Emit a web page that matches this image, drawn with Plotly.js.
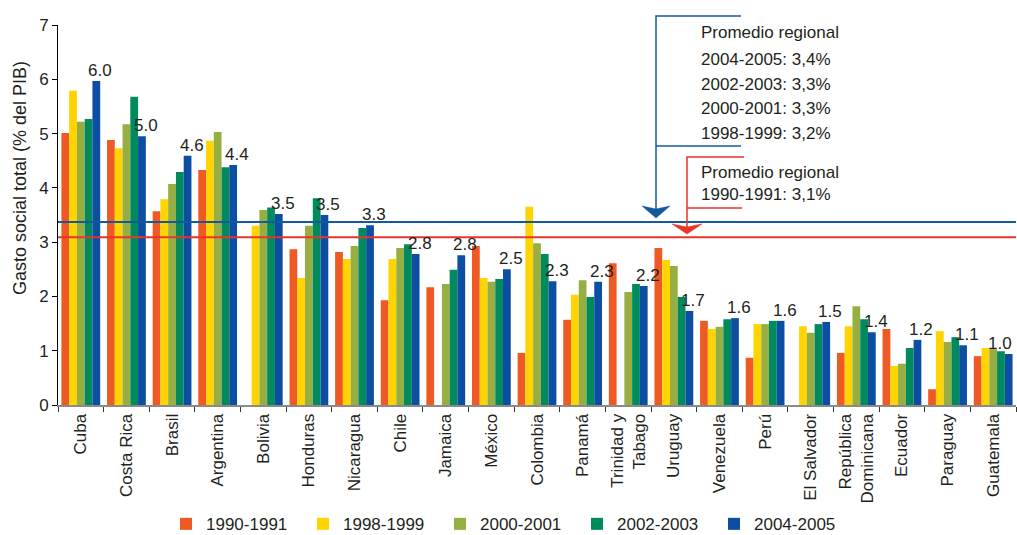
<!DOCTYPE html>
<html>
<head>
<meta charset="utf-8">
<script src="https://cdn.plot.ly/plotly-3.0.1.min.js"></script>
<style>html,body{margin:0;padding:0;background:#fff;}#chart{width:1017px;height:535px;}</style>
</head>
<body>
<div id="chart"></div>
<script>
// ---- Data ----
const countries = ["Cuba","Costa Rica","Brasil","Argentina","Bolivia","Honduras","Nicaragua","Chile","Jamaica","México","Colombia","Panamá","Trinidad y<br>Tabago","Uruguay","Venezuela","Perú","El Salvador","República<br>Dominicana","Ecuador","Paraguay","Guatemala"];
const seriesNames = ["1990-1991","1998-1999","2000-2001","2002-2003","2004-2005"];
const v1990 = [5.01,4.88,3.57,4.33,null,2.87,2.82,1.93,2.17,2.93,0.96,1.57,2.61,2.89,1.55,0.87,null,0.96,1.40,0.29,0.90];
const v1998 = [5.79,4.73,3.79,4.87,3.30,2.34,2.69,2.69,null,2.34,3.65,2.03,null,2.67,1.40,1.49,1.45,1.45,0.72,1.36,1.05];
const v2000 = [5.22,5.17,4.07,5.03,3.59,3.30,2.93,2.89,2.23,2.27,2.98,2.30,2.08,2.56,1.44,1.49,1.33,1.82,0.76,1.16,1.03];
const v2002 = [5.27,5.68,4.29,4.38,3.64,3.81,3.26,2.96,2.49,2.32,2.78,1.99,2.23,1.99,1.58,1.55,1.49,1.58,1.05,1.25,0.99];
const v2004 = [5.97,4.95,4.59,4.42,3.52,3.50,3.31,2.78,2.76,2.50,2.28,2.27,2.19,1.73,1.60,1.55,1.53,1.34,1.20,1.10,0.94];
const labels2004 = ["6.0","5.0","4.6","4.4","3.5","3.5","3.3","2.8","2.8","2.5","2.3","2.3","2.2","1.7","1.6","1.6","1.5","1.4","1.2","1.1","1.0"];
const avgRecent = 3.37;   // Promedio regional 2004-2005 line
const avg1990 = 3.09;     // Promedio regional 1990-1991 line
const noteRecent = ["Promedio regional","2004-2005: 3,4%","2002-2003: 3,3%","2000-2001: 3,3%","1998-1999: 3,2%"];
const note1990 = ["Promedio regional","1990-1991: 3,1%"];
const yTitle = "Gasto social total (% del PIB)";

// ---- Styles ----
const colors = ["#EF5A24","#FFD400","#97AE42","#008A5E","#0B4EA2"];
const FONT = "'Liberation Sans', Arial, Helvetica, sans-serif";
const TXT = "#231F20";
const allSeries = [v1990,v1998,v2000,v2002,v2004];

const traces = allSeries.map((vals,i)=>({
  type:"bar", name:seriesNames[i], x:countries, y:vals,
  marker:{color:colors[i], line:{width:0}}, hoverinfo:"x+y+name"
}));

// pixel -> paper helpers (plot area: x 58..1016, y 25..405)
const L=58, R=1016, T=25, B=405;
const px = p => (p-L)/(R-L);
const py = p => (B-p)/(B-T);
function poly(list, close){
  return list.map((q,k)=>(k===0?"M":"L")+px(q[0]).toFixed(5)+","+py(q[1]).toFixed(5)).join(" ")+(close?" Z":"");
}

const bargap = 0.15;
const groupW = 1-bargap;
const blueOffset = -groupW/2 + 4.5*groupW/5;

const annotations = labels2004.map((t,i)=>({
  x: i + blueOffset, y: v2004[i], xref:"x", yref:"y", text:t, showarrow:false,
  xanchor:"center", yanchor:"bottom", xshift:(i===labels2004.length-1?-9:4), yshift:-1,
  font:{family:FONT,size:17,color:TXT}
}));
const noteY = [33,60,84,108,133];
noteRecent.forEach((t,k)=>annotations.push({xref:"paper",yref:"paper",x:px(699),y:py(noteY[k]),text:t,showarrow:false,xanchor:"left",yanchor:"middle",font:{family:FONT,size:17,color:TXT}}));
const note2Y = [172,194];
note1990.forEach((t,k)=>annotations.push({xref:"paper",yref:"paper",x:px(699),y:py(note2Y[k]),text:t,showarrow:false,xanchor:"left",yanchor:"middle",font:{family:FONT,size:17,color:TXT}}));
// y-axis title (placed like the reference, centred a bit above the plot middle)
annotations.push({xref:"paper",yref:"paper",x:px(20),y:py(178),text:yTitle,textangle:-90,showarrow:false,xanchor:"center",yanchor:"middle",font:{family:FONT,size:18,color:TXT}});

const BLUE_L = "#14589E", RED_L = "#E8352A";
const shapes = [
  {type:"line",xref:"paper",yref:"y",x0:0,x1:1,y0:avgRecent,y1:avgRecent,line:{color:BLUE_L,width:2}},
  {type:"line",xref:"paper",yref:"y",x0:0,x1:1,y0:avg1990,y1:avg1990,line:{color:RED_L,width:2}},
  {type:"path",xref:"paper",yref:"paper",path:poly([[741,16],[656,16],[656,212]]),line:{color:BLUE_L,width:1.5}},
  {type:"path",xref:"paper",yref:"paper",path:poly([[656,146],[741,146]]),line:{color:BLUE_L,width:1.5}},
  {type:"path",xref:"paper",yref:"paper",path:poly([[642,206],[656,218],[670,206],[656,209]],true),fillcolor:BLUE_L,line:{color:BLUE_L,width:0.5}},
  {type:"path",xref:"paper",yref:"paper",path:poly([[744,157],[687,157],[687,228]]),line:{color:RED_L,width:1.5}},
  {type:"path",xref:"paper",yref:"paper",path:poly([[687,208],[742,208]]),line:{color:RED_L,width:1.5}},
  {type:"path",xref:"paper",yref:"paper",path:poly([[672,224],[687,234],[702,224],[687,227]],true),fillcolor:RED_L,line:{color:RED_L,width:0.5}}
];

const layout = {
  width:1017, height:535,
  margin:{l:L, r:1017-R, t:T, b:535-B},
  paper_bgcolor:"#fff", plot_bgcolor:"#fff",
  font:{family:FONT,size:17,color:TXT},
  barmode:"group", bargap:bargap, bargroupgap:0,
  showlegend:true,
  legend:{orientation:"h", xref:"container", yref:"container", x:0.5, xanchor:"center", y:0.02, yanchor:"middle",
          entrywidth:92, itemwidth:30, font:{family:FONT,size:17,color:TXT}, itemclick:false, traceorder:"normal"},
  xaxis:{type:"category", tickangle:-90, tickson:"boundaries", ticks:"outside", ticklen:5, tickcolor:"#333",
         showline:true, linecolor:"#8a8a8a", linewidth:2, showgrid:false, zeroline:false,
         tickfont:{family:FONT,size:17,color:TXT}, range:[-0.5,20.5], automargin:false},
  yaxis:{range:[0,7], dtick:1, ticks:"outside", ticklen:5, tickcolor:"#000", showline:true, linecolor:"#000", linewidth:1,
         showgrid:false, zeroline:false, tickfont:{family:FONT,size:17,color:TXT}, automargin:false},
  annotations:annotations, shapes:shapes
};

Plotly.newPlot("chart", traces, layout, {displayModeBar:false, staticPlot:true});
</script>
</body>
</html>
